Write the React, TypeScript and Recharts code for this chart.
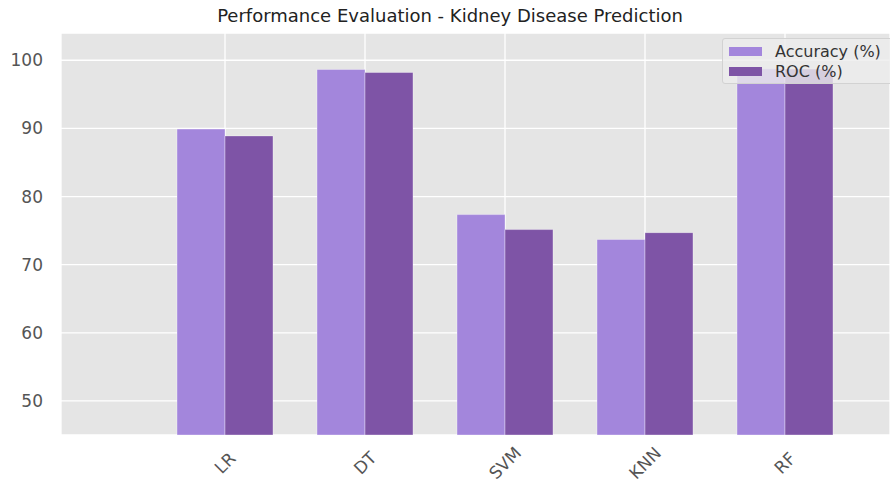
import React from "react";
import { BarChart, Bar, XAxis, YAxis, CartesianGrid, Legend } from "recharts";

const categories = ["LR", "DT", "SVM", "KNN", "RF"];
const accuracy = [89.9, 98.65, 77.35, 73.7, 98.75];
const roc = [88.9, 98.2, 75.15, 74.7, 98.7];
const yTicks = [50, 60, 70, 80, 90, 100];

const data = categories.map((name, i) => ({ name, accuracy: accuracy[i], roc: roc[i] }));

const FONT = "'DejaVu Sans', sans-serif";
const ACC_COLOR = "#a386dc";
const ROC_COLOR = "#7e54a6";

const XTick = (props: any) => {
  const { x, y, payload } = props;
  const cy = y + 28;
  return (
    <text
      x={x}
      y={cy}
      textAnchor="middle"
      dominantBaseline="central"
      fontSize={17}
      fill="#555"
      fontFamily={FONT}
      transform={`rotate(-45 ${x} ${cy})`}
    >
      {payload.value}
    </text>
  );
};

const LegendBox = () => (
  <div
    style={{
      position: "absolute",
      left: 722,
      top: 38,
      width: 175,
      height: 46,
      background: "rgba(236,236,236,0.8)",
      border: "1px solid #d2d2d2",
      borderRadius: 3,
      boxSizing: "border-box",
      fontFamily: FONT,
      fontSize: 16,
      color: "#333",
    }}
  >
    {[
      { label: "Accuracy (%)", color: ACC_COLOR },
      { label: "ROC (%)", color: ROC_COLOR },
    ].map((it, i) => (
      <div key={it.label} style={{ position: "absolute", left: 6, top: 2 + i * 20, height: 20, display: "flex", alignItems: "center" }}>
        <span style={{ display: "inline-block", width: 33, height: 9, background: it.color, marginRight: 13 }} />
        <span>{it.label}</span>
      </div>
    ))}
  </div>
);

export default function App() {
  return (
    <div style={{ position: "absolute", left: 0, top: 0, width: 890, height: 482, overflow: "hidden", background: "#fff" }}>
      <div
        style={{
          position: "absolute",
          left: 450,
          top: 5,
          transform: "translateX(-50%)",
          whiteSpace: "nowrap",
          fontFamily: FONT,
          fontSize: 18,
          color: "#222",
          lineHeight: "22px",
        }}
      >
        Performance Evaluation - Kidney Disease Prediction
      </div>
      <BarChart
        width={890}
        height={482}
        data={data}
        margin={{ top: 33, right: 0, bottom: 0, left: 0 }}
        barGap={0}
        barSize={48}
        style={{ position: "absolute", left: 0, top: 0 }}
      >
        <CartesianGrid fill="#e5e5e5" stroke="#ffffff" strokeWidth={1.3} />
        <XAxis
          dataKey="name"
          height={47}
          padding={{ left: 94, right: 35 }}
          axisLine={false}
          tickLine={false}
          tickSize={0}
          tickMargin={0}
          tick={<XTick />}
          interval={0}
        />
        <YAxis
          width={61}
          domain={[45, 104]}
          ticks={yTicks}
          axisLine={false}
          tickLine={false}
          tickSize={0}
          tickMargin={18}
          allowDataOverflow
          tick={{ fontSize: 17, fill: "#555", fontFamily: FONT }}
        />
        <Bar dataKey="accuracy" name="Accuracy (%)" fill={ACC_COLOR} stroke="rgba(255,255,255,0.35)" strokeWidth={1} isAnimationActive={false} />
        <Bar dataKey="roc" name="ROC (%)" fill={ROC_COLOR} stroke="rgba(255,255,255,0.35)" strokeWidth={1} isAnimationActive={false} />
        <Legend content={() => <LegendBox />} wrapperStyle={{ position: "absolute", left: 0, top: 0, width: 0, height: 0 }} />
      </BarChart>
    </div>
  );
}
